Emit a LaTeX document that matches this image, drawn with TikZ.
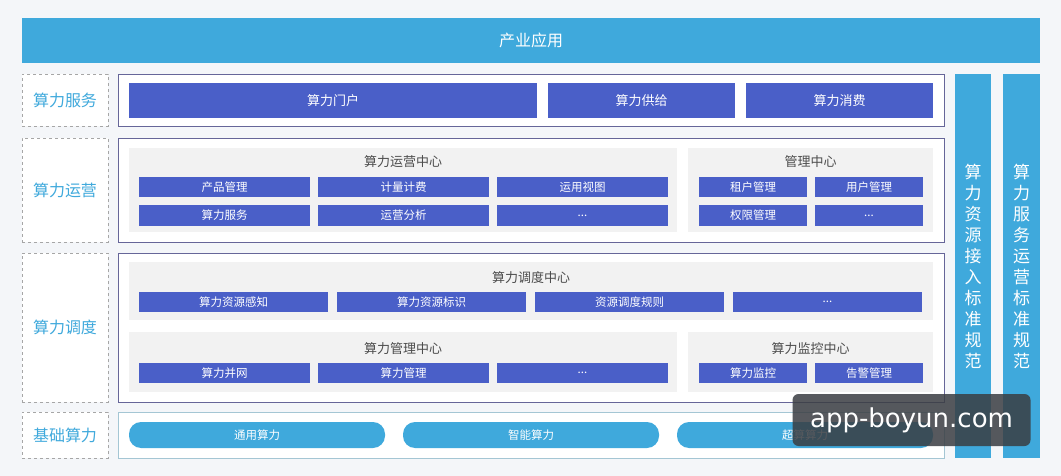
\documentclass[tikz,border=0pt]{standalone}
\usepackage{fontspec}
\newfontfamily\cjk{Noto Sans CJK SC}
\setmainfont{DejaVu Sans}
\newcommand\tdots{...}
\begin{document}
\begin{tikzpicture}[x=1pt,y=-1pt,
  lbl/.style={draw=gray!70,dashed,fill=white,text=cyanA,font=\cjk\fontsize{16}{16}\selectfont},
  frame/.style={draw=gray!80!blue,fill=white,line width=0.8pt},
  cell/.style={fill=blueA,text=white,font=\cjk\fontsize{11.5}{11.5}\selectfont},
  panel/.style={fill=gray!10},
  ttl/.style={text=black!70,font=\cjk\fontsize{13}{13}\selectfont},
  pill/.style={fill=cyanA,rounded corners=12pt,text=white,font=\cjk\fontsize{11.5}{11.5}\selectfont},
  vcol/.style={fill=cyanA,text=white,font=\cjk\fontsize{17}{21}\selectfont,align=center}]
\definecolor{cyanA}{HTML}{3FA9DC}
\definecolor{blueA}{HTML}{4A5FC8}
\definecolor{bgA}{HTML}{F4F6F9}
\fill[bgA] (0,0) rectangle (1061,476);
\useasboundingbox (0,0) rectangle (1061,476);
\node[fill=cyanA,text=white,font=\cjk\fontsize{16}{16}\selectfont,minimum width=1018pt,minimum height=45pt] (top) at (531,40.5) {产业应用};
% left labels
\node[lbl,minimum width=86pt,minimum height=52pt] (l1) at (65,100) {算力服务};
\node[lbl,minimum width=86pt,minimum height=104pt] (l2) at (65,190) {算力运营};
\node[lbl,minimum width=86pt,minimum height=149pt] (l3) at (65,327.5) {算力调度};
\node[lbl,minimum width=86pt,minimum height=46pt] (l4) at (65,435) {基础算力};
% frames
\draw[frame] (118,74) rectangle (944,126);
\draw[frame] (118,138) rectangle (944,242);
\draw[frame] (118,253) rectangle (944,402);
\draw[frame,draw=cyan!40!gray!60] (118,412) rectangle (944,458);
% right columns
\node[vcol,minimum width=36pt,minimum height=384pt] (r1) at (973,266) {算\\力\\资\\源\\接\\入\\标\\准\\规\\范};
\node[vcol,minimum width=37pt,minimum height=384pt] (r2) at (1021.5,266) {算\\力\\服\\务\\运\\营\\标\\准\\规\\范};
% service
\node[cell,font=\cjk\fontsize{13}{13}\selectfont,minimum width=408pt,minimum height=35pt] (s1) at (333,100.5) {算力门户};
\node[cell,font=\cjk\fontsize{13}{13}\selectfont,minimum width=187pt,minimum height=35pt] (s2) at (641.5,100.5) {算力供给};
\node[cell,font=\cjk\fontsize{13}{13}\selectfont,minimum width=187pt,minimum height=35pt] (s3) at (839.5,100.5) {算力消费};
% ops
\fill[panel] (129,148) rectangle (677,232);
\fill[panel] (688,148) rectangle (933,232);
\node[ttl] (t1) at (403,162) {算力运营中心};
\node[ttl] (t2) at (810.5,162) {管理中心};
\foreach \n/\x/\w/\y/\t in {a/224.5/171/187/产品管理,b/403.5/171/187/计量计费,c/582.5/171/187/运用视图,
  d/224.5/171/215.5/算力服务,e/403.5/171/215.5/运营分析,f/582.5/171/215.5/\tdots,
  g/753/108/187/租户管理,h/869/108/187/用户管理,i/753/108/215.5/权限管理,j/869/108/215.5/\tdots}
  \node[cell,minimum width=\w pt,minimum height=20pt] (o\n) at (\x,\y) {\t};
% dispatch
\fill[panel] (129,262) rectangle (933,320);
\fill[panel] (129,332) rectangle (677,392);
\fill[panel] (688,332) rectangle (933,392);
\node[ttl] (t3) at (531,278) {算力调度中心};
\node[ttl] (t4) at (403,349) {算力管理中心};
\node[ttl] (t5) at (810.5,349) {算力监控中心};
\foreach \n/\x/\w/\y/\t in {a/233.5/189/302/算力资源感知,b/431.5/189/302/算力资源标识,c/629.5/189/302/资源调度规则,d/827.5/189/302/\tdots,
  e/224.5/171/373/算力并网,f/403.5/171/373/算力管理,g/582.5/171/373/\tdots,
  h/753/108/373/算力监控,i/869/108/373/告警管理}
  \node[cell,minimum width=\w pt,minimum height=20pt] (d\n) at (\x,\y) {\t};
% base
\node[pill,minimum width=256pt,minimum height=26pt] (b1) at (257,435) {通用算力};
\node[pill,minimum width=256pt,minimum height=26pt] (b2) at (531,435) {智能算力};
\node[pill,minimum width=256pt,minimum height=26pt] (b3) at (805,435) {超算算力};
% watermark
\node[fill=black!75!cyan!60!black,fill opacity=0.85,text opacity=1,text=white,rounded corners=6pt,minimum width=238pt,minimum height=52pt,font=\fontsize{26}{26}\selectfont] (wm) at (911.5,420) {app-boyun.com};
\end{tikzpicture}
\end{document}
